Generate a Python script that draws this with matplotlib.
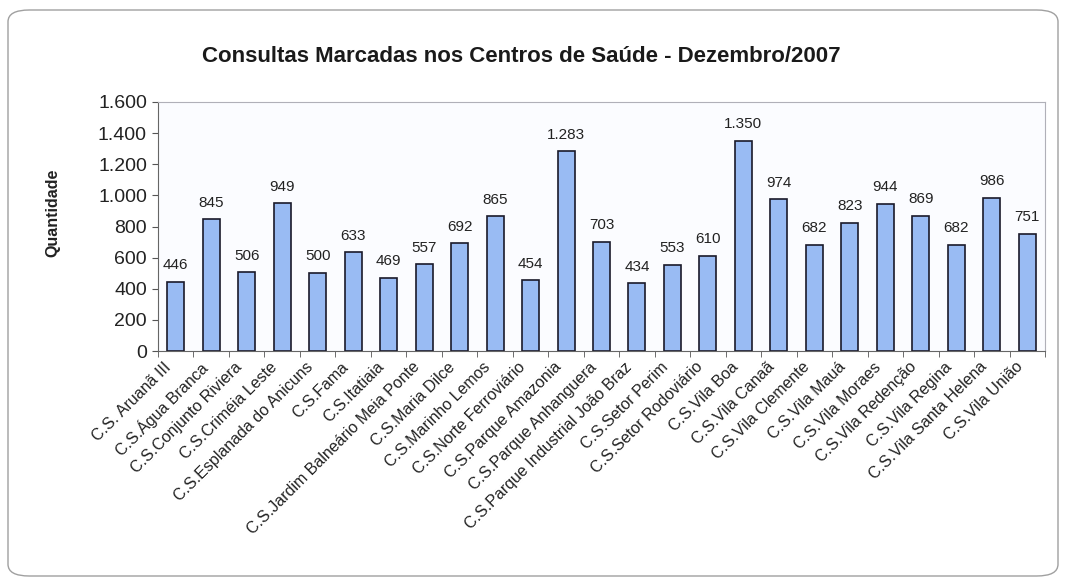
import matplotlib
matplotlib.use("Agg")
import matplotlib.pyplot as plt
from matplotlib.patches import FancyBboxPatch
import numpy as np

plt.rcParams['font.family'] = ['Liberation Sans', 'DejaVu Sans']

categories = [
    "C.S. Aruanã III", "C.S.Água Branca", "C.S.Conjunto Riviera", "C.S.Criméia Leste",
    "C.S.Esplanada do Anicuns", "C.S.Fama", "C.S.Itatiaia", "C.S.Jardim Balneário Meia Ponte",
    "C.S.Maria Dilce", "C.S.Marinho Lemos", "C.S.Norte Ferroviário", "C.S.Parque Amazonia",
    "C.S.Parque Anhanguera", "C.S.Parque Industrial João Braz", "C.S.Setor Perim",
    "C.S.Setor Rodoviário", "C.S.Vila Boa", "C.S.Vila Canaã", "C.S.Vila Clemente",
    "C.S.Vila Mauá", "C.S.Vila Moraes", "C.S.Vila Redenção", "C.S.Vila Regina",
    "C.S.Vila Santa Helena", "C.S.Vila União",
]
values = [446, 845, 506, 949, 500, 633, 469, 557, 692, 865, 454, 1283, 703, 434,
          553, 610, 1350, 974, 682, 823, 944, 869, 682, 986, 751]
yticks = [0, 200, 400, 600, 800, 1000, 1200, 1400, 1600]
ytick_labels = ["0", "200", "400", "600", "800", "1.000", "1.200", "1.400", "1.600"]
title = "Consultas Marcadas nos Centros de Saúde - Dezembro/2007"
ylabel = "Quantidade"

W, H = 1067, 587
fig = plt.figure(figsize=(W / 100, H / 100), dpi=100)
fig.patch.set_facecolor("white")

# outer rounded frame
frame = FancyBboxPatch((8 / W, 11 / H), (1058 - 8) / W, (577 - 11) / H,
                       boxstyle="round,pad=0,rounding_size=0.02",
                       transform=fig.transFigure, facecolor="none",
                       edgecolor="#a0a0a0", linewidth=1.0, zorder=-1)
fig.patches.append(frame)

ax = fig.add_axes([158 / W, 1 - 351 / H, 887 / W, (351 - 102) / H])
ax.set_facecolor("#fbfcff")
x = np.arange(len(categories))
bars = ax.bar(x, values, width=0.48, color="#99bbf3", edgecolor="#1a1a2a", linewidth=1.2, zorder=2)

for xi, v in zip(x, values):
    lab = f"{v:,}".replace(",", ".")
    ax.annotate(lab, (xi, v), xytext=(0, 7), textcoords="offset points",
                ha="center", va="bottom", fontsize=11, color="#222222")

ax.set_xlim(-0.5, len(categories) - 0.5)
ax.set_ylim(0, 1600)
ax.set_yticks(yticks)
ax.set_yticklabels(ytick_labels, fontsize=14, color="#222222")

# category labels (rotated, right end slightly left of bar centre)
ax.set_xticks(x)
ax.set_xticklabels([])
ax.tick_params(axis="x", which="major", length=0)
xt = ax.get_xaxis_transform()
for xi, name in zip(x, categories):
    ax.annotate(name, (xi, 0), xycoords=xt, xytext=(-9, -6), textcoords="offset points",
                rotation=45, ha="right", va="top", rotation_mode="anchor",
                fontsize=11.5, color="#222222", annotation_clip=False)

ax.set_xticks(np.arange(-0.5, len(categories), 1), minor=True)
ax.tick_params(axis="x", which="minor", length=4, color="#555555", direction="out")
ax.tick_params(axis="y", length=4, color="#555555", direction="out", pad=4)

for s in ["left", "bottom"]:
    ax.spines[s].set_color("#666666")
for s in ["top", "right"]:
    ax.spines[s].set_color("#b0b0b8")

ax.set_ylabel(ylabel, fontsize=11.5, fontweight="bold", color="#222222")
ax.yaxis.set_label_coords(-(158 - 60) / 887, (351 - 213) / 249)

fig.text(521 / W, 1 - 57 / H, title, ha="center", va="center",
         fontsize=16, fontweight="bold", color="#1a1a1a")

fig.savefig("out.png", dpi=100)
